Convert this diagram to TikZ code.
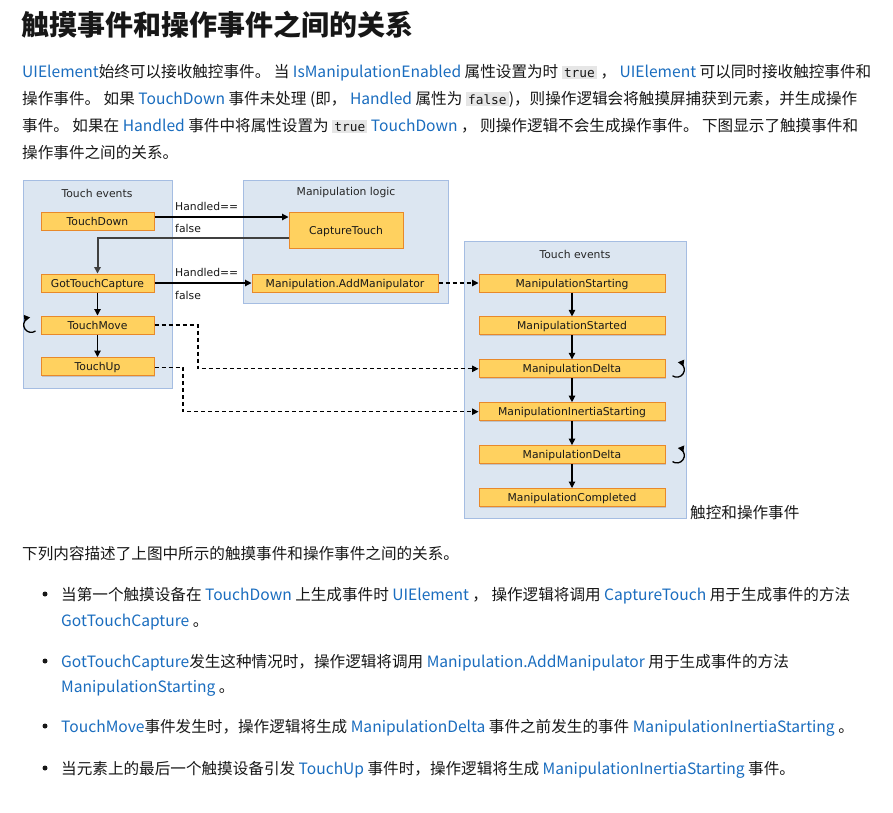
\documentclass[tikz,border=0pt]{standalone}
\usepackage{fontspec}
\setmainfont{Noto Sans CJK SC}
\newfontfamily\diagfont{DejaVu Sans}
\newfontfamily\codefont{DejaVu Sans Mono}
\usepackage{xcolor}
\usepackage{tikz}
\usetikzlibrary{positioning, arrows.meta, shadows}
\definecolor{evFill}{HTML}{FFD15F}
\definecolor{evLine}{HTML}{E8892A}
\definecolor{grpFill}{HTML}{DCE6F1}
\definecolor{grpLine}{HTML}{A5BDE2}
\definecolor{lkBlue}{HTML}{1A6DBF}
\definecolor{txtDark}{HTML}{171717}
\definecolor{codeBg}{HTML}{E6E6E6}
\newcommand\lk[1]{\textcolor{lkBlue}{#1}}
\newcommand\cd[1]{{\setlength{\fboxsep}{2.2pt}\colorbox{codeBg}{\codefont\fontsize{12.8}{13}\selectfont #1}}}

\begin{document}
\begin{tikzpicture}[x=1pt, y=-1pt,
    txt/.style={anchor=base west, inner sep=0pt, text=txtDark, font=\fontsize{15.6}{18}\selectfont},
    grp/.style={draw=grpLine, fill=grpFill, line width=0.8pt, inner sep=0pt},
    grptitle/.style={font=\diagfont\fontsize{10.8}{12}\selectfont, text=black!85},
    evbox/.style={draw=evLine, fill=evFill, line width=1pt, inner sep=0pt, minimum height=18pt,
      text height=8pt, text depth=0pt,
      font=\diagfont\fontsize{10.8}{12}\selectfont, text=black!90,
      drop shadow={shadow xshift=1.2pt, shadow yshift=-1.2pt, fill=black!40, opacity=0.45}},
    lbl/.style={anchor=west, inner sep=0pt, font=\diagfont\fontsize{10.8}{12}\selectfont, text=black!90},
    arr/.style={-{Triangle[length=6.5pt,width=6.5pt]}, line width=1.1pt, draw=black},
    dsh/.style={arr, dash pattern=on 4pt off 3pt},
    loop/.style={-{Triangle[length=6pt,width=6.5pt]}, line width=1.3pt, draw=black}]
  \useasboundingbox[fill=white] (0,0) rectangle (893,812);

  % heading and intro
  \node[txt, font=\bfseries\fontsize{28}{30}\selectfont] (ttl) at (21,35) {触摸事件和操作事件之间的关系};
  \node[txt] (p1) at (22,77) {\lk{UIElement}始终可以接收触控事件。 当 \lk{IsManipulationEnabled} 属性设置为时 \cd{true} ， \lk{UIElement} 可以同时接收触控事件和};
  \node[txt] (p2) at (22,104) {操作事件。 如果 \lk{TouchDown} 事件未处理 (即， \lk{Handled} 属性为 \cd{false})，则操作逻辑会将触摸屏捕获到元素，并生成操作};
  \node[txt] (p3) at (22,131) {事件。 如果在 \lk{Handled} 事件中将属性设置为 \cd{true} \lk{TouchDown} ， 则操作逻辑不会生成操作事件。 下图显示了触摸事件和};
  \node[txt] (p4) at (22,158) {操作事件之间的关系。};

  % groups
  \node[grp, minimum width=149pt, minimum height=208pt] (grpL) at (97.5,284) {};
  \node[grp, minimum width=205pt, minimum height=123pt] (grpM) at (345.5,241.5) {};
  \node[grp, minimum width=222pt, minimum height=277pt] (grpR) at (575,379.5) {};
  \node[grptitle] (tL) at (97,193) {Touch events};
  \node[grptitle] (tM) at (346,193) {Manipulation logic};
  \node[grptitle] (tR) at (575,254) {Touch events};

  % touch events (left)
  \node[evbox, minimum width=113pt] (td) at (97.5,221) {TouchDown};
  \node[evbox, minimum width=113pt] (gtc) at (97.5,283) {GotTouchCapture};
  \node[evbox, minimum width=113pt] (tm) at (97.5,325) {TouchMove};
  \node[evbox, minimum width=113pt] (tu) at (97.5,366.5) {TouchUp};

  % manipulation logic
  \node[evbox, minimum width=114pt, minimum height=36pt] (ct) at (346,230) {CaptureTouch};
  \node[evbox, minimum width=186pt] (am) at (345,283) {Manipulation.AddManipulator};

  % manipulation events (right)
  \node[evbox, minimum width=186pt] (ms) at (572,283) {ManipulationStarting};
  \node[evbox, minimum width=186pt, below=23.9pt of ms] (mst) {ManipulationStarted};
  \node[evbox, minimum width=186pt, below=23.9pt of mst] (md1) {ManipulationDelta};
  \node[evbox, minimum width=186pt, below=23.9pt of md1] (mis) {ManipulationInertiaStarting};
  \node[evbox, minimum width=186pt, below=23.9pt of mis] (md2) {ManipulationDelta};
  \node[evbox, minimum width=186pt, below=23.9pt of md2] (mc) {ManipulationCompleted};

  % connectors
  \draw[arr] ([yshift=4pt]td.east) -- ([yshift=4pt]td.east -| ct.west);
  \node[lbl] (h1) at (175,206) {Handled==};
  \node[lbl] (f1) at (175,228) {false};
  \draw[arr, draw=black!75, line width=2pt] ([yshift=-8pt]ct.west) -| (gtc.north);
  \draw[arr] (gtc.east) -- (am.west);
  \node[lbl] (h2) at (175,272) {Handled==};
  \node[lbl] (f2) at (175,295) {false};
  \draw[arr] (gtc) -- (tm);
  \draw[arr] (tm) -- (tu);
  \draw[dsh] (am.east) -- (ms.west);
  \coordinate (tmBend) at (198,325);
  \coordinate (tuBend) at (183,367.5);
  \draw[dsh] (tm.east) -- (tmBend) |- (md1.west);
  \draw[dsh] ([yshift=-1pt]tu.east) -- (tuBend) |- (mis.west);
  \foreach \a/\b in {ms/mst, mst/md1, md1/mis, mis/md2, md2/mc}
    \draw[arr] (\a) -- (\b);

  % repeat marks
  \draw[loop] ([xshift=-5pt,yshift=-6pt]tm.west) arc[start angle=-55, end angle=-262, radius=7.5pt];
  \draw[loop] ([xshift=7pt,yshift=-7pt]md1.east) arc[start angle=-125, end angle=82, radius=7.5pt];
  \draw[loop] ([xshift=7pt,yshift=-7pt]md2.east) arc[start angle=-125, end angle=82, radius=7.5pt];
  \node[txt] (cap) at (690,518) {触控和操作事件};

  % description and list
  \node[txt] (q0) at (22,559) {下列内容描述了上图中所示的触摸事件和操作事件之间的关系。};
  \foreach \n/\y in {b1/594, b2/661, b3/726, b4/768}
    \node[circle, fill=txtDark, inner sep=0pt, minimum size=5pt] (\n) at (45,\y) {};
  \node[txt] (q1) at (61,600) {当第一个触摸设备在 \lk{TouchDown} 上生成事件时 \lk{UIElement} ， 操作逻辑将调用 \lk{CaptureTouch} 用于生成事件的方法};
  \node[txt] (q1b) at (61,626) {\lk{GotTouchCapture} 。};
  \node[txt] (q2) at (61,667) {\lk{GotTouchCapture}发生这种情况时，操作逻辑将调用 \lk{Manipulation.AddManipulator} 用于生成事件的方法};
  \node[txt] (q2b) at (61,692) {\lk{ManipulationStarting} 。};
  \node[txt] (q3) at (61,732) {\lk{TouchMove}事件发生时，操作逻辑将生成 \lk{ManipulationDelta} 事件之前发生的事件 \lk{ManipulationInertiaStarting} 。};
  \node[txt] (q4) at (61,774) {当元素上的最后一个触摸设备引发 \lk{TouchUp} 事件时，操作逻辑将生成 \lk{ManipulationInertiaStarting} 事件。};
\end{tikzpicture}
\end{document}
